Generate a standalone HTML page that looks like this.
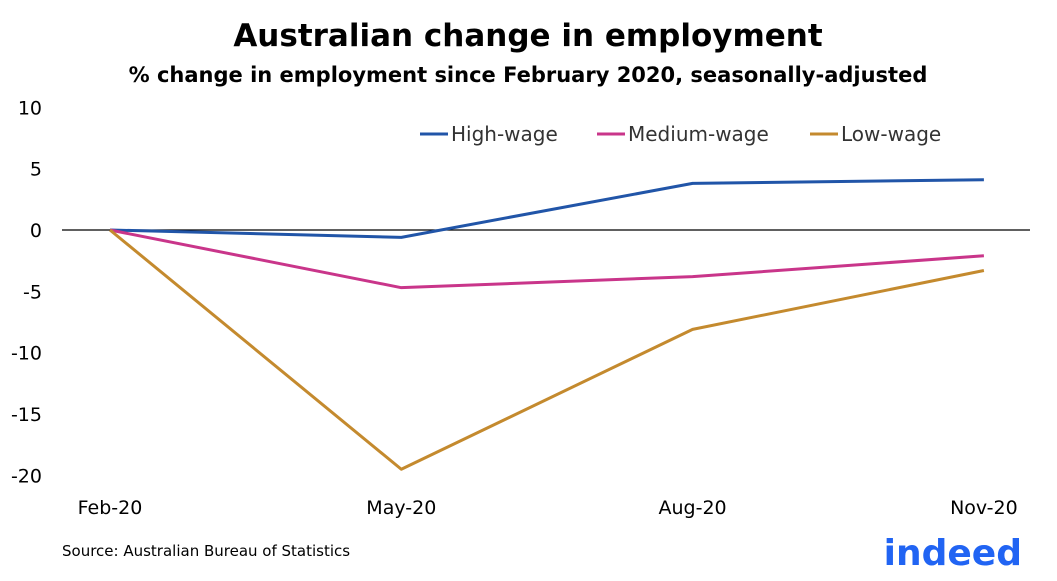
<!DOCTYPE html>
<html><head><meta charset="utf-8"><style>
body{margin:0;background:#fff;font-family:"Liberation Sans","DejaVu Sans",sans-serif;}
svg text{font-family:"DejaVu Sans","Liberation Sans",sans-serif;}
</style></head><body>
<svg id="chart" width="1057" height="576" viewBox="0 0 1057 576" xmlns="http://www.w3.org/2000/svg">
<text x="528" y="46" text-anchor="middle" font-size="31" font-weight="bold" fill="#000">Australian change in employment</text>
<text x="528" y="82" text-anchor="middle" font-size="21" font-weight="bold" fill="#000">% change in employment since February 2020, seasonally-adjusted</text>
<g id="yaxis"></g>
<g id="xaxis"></g>
<g id="series"></g>
<g id="legend"></g>
<text x="62" y="556" font-size="15" fill="#000">Source: Australian Bureau of Statistics</text>
<text x="1022" y="565" text-anchor="end" font-size="36" font-weight="bold" fill="#2164f3">indeed</text>
</svg>
<script>
const categories=["Feb-20","May-20","Aug-20","Nov-20"];
const highWage=[0,-0.6,3.8,4.1];
const mediumWage=[0,-4.7,-3.8,-2.1];
const lowWage=[0,-19.5,-8.1,-3.3];
const yTicks=[10,5,0,-5,-10,-15,-20];
const seriesNames=["High-wage","Medium-wage","Low-wage"];
const NS="http://www.w3.org/2000/svg";
function y(v){return 230-v*12.27;}
function x(i){return 110+i*291.3;}
function mk(t,a,p){const e=document.createElementNS(NS,t);for(const k in a)e.setAttribute(k,a[k]);p.appendChild(e);return e;}
const ya=document.getElementById('yaxis');
yTicks.forEach(v=>{const t=mk('text',{x:42,y:y(v)+7,'text-anchor':'end','font-size':19,fill:'#000'},ya);


t.textContent=v;});
const zl=mk('line',{x1:62,x2:1030,y1:y(0),y2:y(0),stroke:'#000','stroke-width':1.2},ya);


const xa=document.getElementById('xaxis');
categories.forEach((c,i)=>{const t=mk('text',{x:x(i),y:514,'text-anchor':'middle','font-size':19,fill:'#000'},xa);


t.textContent=c;});
const colors=["#2155a8","#c9358a","#c48a2e"];
const data=[highWage,mediumWage,lowWage];
const sg=document.getElementById('series');
data.forEach((d,s)=>{const p=mk('polyline',{points:d.map((v,i)=>x(i)+','+y(v)).join(' '),fill:'none',stroke:colors[s],'stroke-width':3,'stroke-linejoin':'round'},sg);

});
const lg=document.getElementById('legend');
const lx=[420,597,810];
seriesNames.forEach((n,s)=>{
const l=mk('line',{x1:lx[s],x2:lx[s]+28,y1:134,y2:134,stroke:colors[s],'stroke-width':3},lg);


const t=mk('text',{x:lx[s]+31,y:141,'font-size':20,fill:'#333'},lg);


t.textContent=n;});
</script>
</body></html>
